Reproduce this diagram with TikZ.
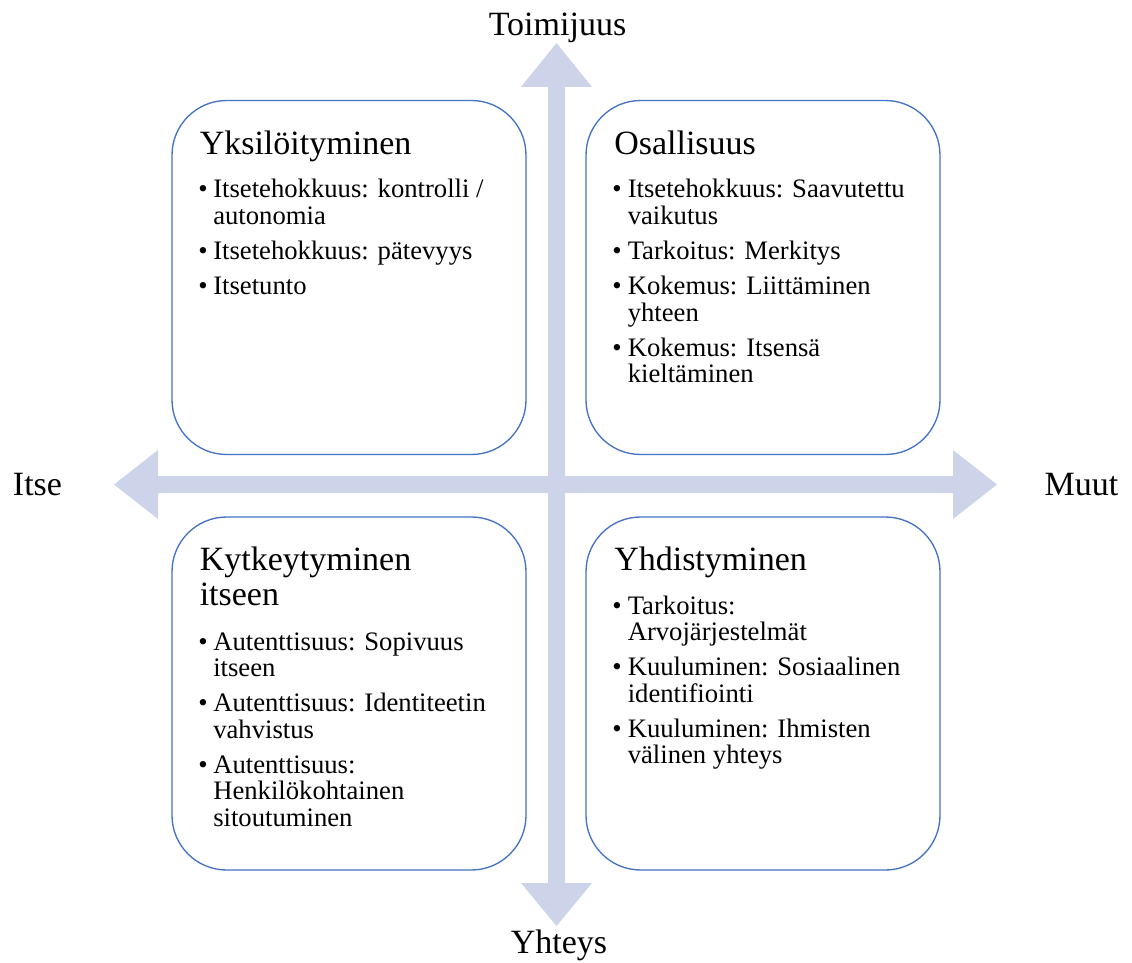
\documentclass[tikz,border=0pt]{standalone}
\usepackage{fontspec}
\setmainfont{Liberation Serif}
\definecolor{axisfill}{HTML}{CDD4EA}
\definecolor{panelline}{HTML}{4472C4}
\begin{document}
\begin{tikzpicture}[x=0.75pt,y=-0.75pt,
  panel/.style={draw=panelline,line width=1pt,fill=white,rounded corners=41pt,
    minimum width=265.5pt,minimum height=265.5pt,inner sep=0pt},
  ttl/.style={anchor=base west,inner sep=0pt,font=\fontsize{25.5}{26}\selectfont},
  itm/.style={anchor=base west,inner sep=0pt,font=\fontsize{20}{20}\selectfont},
  dot/.style={anchor=base,inner sep=0pt,font=\fontsize{20}{20}\selectfont},
  axislbl/.style={anchor=base,inner sep=0pt,font=\fontsize{25.5}{26}\selectfont}]
\useasboundingbox (0,0) rectangle (1132,963);

% the two double-headed axis arrows
\fill[axisfill] (548,87) -- (521,87) -- (556.5,43) -- (592,87) -- (565,87)
  -- (565,883) -- (592,883) -- (556.5,926) -- (521,883) -- (548,883) -- cycle;
\fill[axisfill] (158,476) -- (158,450) -- (114,484.5) -- (158,519) -- (158,493)
  -- (953,493) -- (953,519) -- (997,484.5) -- (953,450) -- (953,476) -- cycle;

% axis labels
\node[axislbl] (up)    at (557.5,36)  {Toimijuus};
\node[axislbl] (down)  at (559,953)   {Yhteys};
\node[axislbl] (left)  at (37.5,495)  {Itse};
\node[axislbl] (right) at (1081.5,495) {Muut};

% quadrant panels
\node[panel] (p1) at (349,277.5) {};
\node[panel] (p2) at (763,277.5) {};
\node[panel,minimum height=264.75pt] (p3) at (349,693.5) {};
\node[panel,minimum height=264.75pt] (p4) at (763,693.5) {};

% top left
\node[ttl] (p1t) at (199.5,155) {Yksilöityminen};
\node[dot] (p1d1) at (203,198) {\textbullet};
\node[itm] (p1a) at (213,198) {Itsetehokkuus: kontrolli /};
\node[itm] (p1b) at (213,224.5) {autonomia};
\node[dot] (p1d2) at (203,259.5) {\textbullet};
\node[itm] (p1c) at (213,259.5) {Itsetehokkuus: pätevyys};
\node[dot] (p1d3) at (203,294.5) {\textbullet};
\node[itm] (p1e) at (213,294.5) {Itsetunto};

% top right
\node[ttl] (p2t) at (614,155) {Osallisuus};
\node[dot] (p2d1) at (617,198) {\textbullet};
\node[itm] (p2a) at (627.5,198) {Itsetehokkuus: Saavutettu};
\node[itm] (p2b) at (627.5,224.5) {vaikutus};
\node[dot] (p2d2) at (617,259.5) {\textbullet};
\node[itm] (p2c) at (627.5,259.5) {Tarkoitus: Merkitys};
\node[dot] (p2d3) at (617,294.5) {\textbullet};
\node[itm] (p2e) at (627.5,294.5) {Kokemus: Liittäminen};
\node[itm] (p2f) at (627.5,321) {yhteen};
\node[dot] (p2d4) at (617,356) {\textbullet};
\node[itm] (p2g) at (627.5,356) {Kokemus: Itsensä};
\node[itm] (p2h) at (627.5,382.5) {kieltäminen};

% bottom left
\node[ttl] (p3t) at (199.5,570) {Kytkeytyminen};
\node[ttl] (p3u) at (199.5,605) {itseen};
\node[dot] (p3d1) at (203,650) {\textbullet};
\node[itm] (p3a) at (213,650) {Autenttisuus: Sopivuus};
\node[itm] (p3b) at (213,676.5) {itseen};
\node[dot] (p3d2) at (203,711.5) {\textbullet};
\node[itm] (p3c) at (213,711.5) {Autenttisuus: Identiteetin};
\node[itm] (p3e) at (213,738) {vahvistus};
\node[dot] (p3d3) at (203,773) {\textbullet};
\node[itm] (p3f) at (213,773) {Autenttisuus:};
\node[itm] (p3g) at (213,799.5) {Henkilökohtainen};
\node[itm] (p3h) at (213,826) {sitoutuminen};

% bottom right
\node[ttl] (p4t) at (614,570) {Yhdistyminen};
\node[dot] (p4d1) at (617,614) {\textbullet};
\node[itm] (p4a) at (627.5,614) {Tarkoitus:};
\node[itm] (p4b) at (627.5,640.5) {Arvojärjestelmät};
\node[dot] (p4d2) at (617,675.5) {\textbullet};
\node[itm] (p4c) at (627.5,675.5) {Kuuluminen: Sosiaalinen};
\node[itm] (p4e) at (627.5,702) {identifiointi};
\node[dot] (p4d3) at (617,737) {\textbullet};
\node[itm] (p4f) at (627.5,737) {Kuuluminen: Ihmisten};
\node[itm] (p4g) at (627.5,763.5) {välinen yhteys};
\end{tikzpicture}
\end{document}
